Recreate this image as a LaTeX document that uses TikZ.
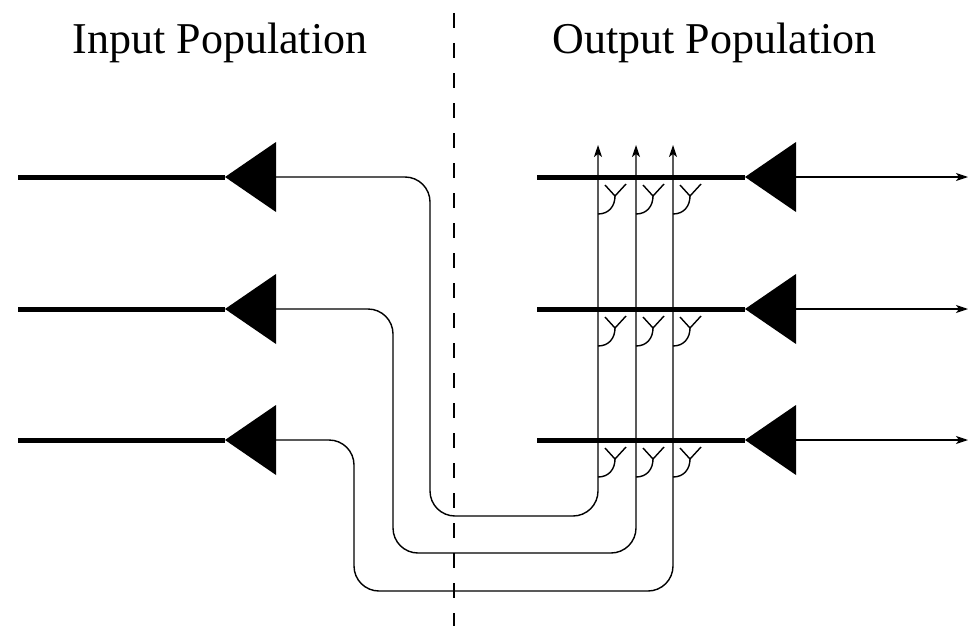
\documentclass[tikz,border=0pt]{standalone}
\usepackage{fontspec}
\setmainfont{Liberation Serif}
\usetikzlibrary{arrows.meta}

\tikzset{
  axon/.style={line width=5pt},
  fibre/.style={line width=1.4pt, rounded corners=25pt},
  tip/.style={-{Stealth[length=12pt,width=8pt,inset=3pt]}},
  soma/.style={fill=black, draw=none},
  divider/.style={line width=1.6pt, dash pattern=on 15pt off 15pt},
  title/.style={anchor=base, inner sep=0pt, font=\fontsize{44}{50}\selectfont},
  synapse/.style={line width=1.4pt},
}

\begin{document}
\begin{tikzpicture}[x=1pt, y=-1pt]
  \useasboundingbox (0,0) rectangle (971,626);

  % headings
  \node[title] (inTitle)  at (220,53)   {Input Population};
  \node[title] (outTitle) at (714.5,53) {Output Population};

  % dividing line between the two populations
  \coordinate (divTop) at (454,13);
  \coordinate (divBot) at (454,626);
  \draw[divider] (divTop) -- (divBot);

  % rows: y, turn-down x of the fibre, bottom y of its loop, output column x
  \foreach \r/\y/\tx/\by/\cx in {1/177/430/516/598, 2/309/393/553/636, 3/440/354/591/673} {
    % input neuron
    \coordinate (inStart\r) at (18,\y);
    \coordinate (inTip\r)   at (225,\y);
    \coordinate (inBase\r)  at (276,\y);
    \draw[axon] (inStart\r) -- (inTip\r);
    \fill[soma] (inTip\r) -- (276,\y-35) -- (276,\y+35) -- cycle;

    % output neuron
    \coordinate (outStart\r) at (537,\y);
    \coordinate (outTip\r)   at (745,\y);
    \coordinate (outBase\r)  at (796,\y);
    \coordinate (outEnd\r)   at (968,\y);
    \draw[axon] (outStart\r) -- (outTip\r);
    \fill[soma] (outTip\r) -- (796,\y-35) -- (796,\y+35) -- cycle;
    \draw[fibre, tip] (outBase\r) -- (outEnd\r);

    % fibre from the input neuron looping under to the output side
    \coordinate (colTop\r) at (\cx,145);
    \draw[fibre, tip] (inBase\r) -- (\tx,\y) -- (\tx,\by) -- (\cx,\by) -- (colTop\r);
  }

  % synapses of every column onto every output dendrite
  \foreach \y in {177,309,440} {
    \foreach \cx in {598,636,673} {
      \draw[synapse] (\cx,\y+37) .. controls (\cx+11,\y+37) and (\cx+17,\y+29) .. (\cx+17,\y+19);
      \draw[synapse] (\cx+7,\y+8) -- (\cx+17,\y+19) -- (\cx+28,\y+7);
    }
  }
\end{tikzpicture}
\end{document}
